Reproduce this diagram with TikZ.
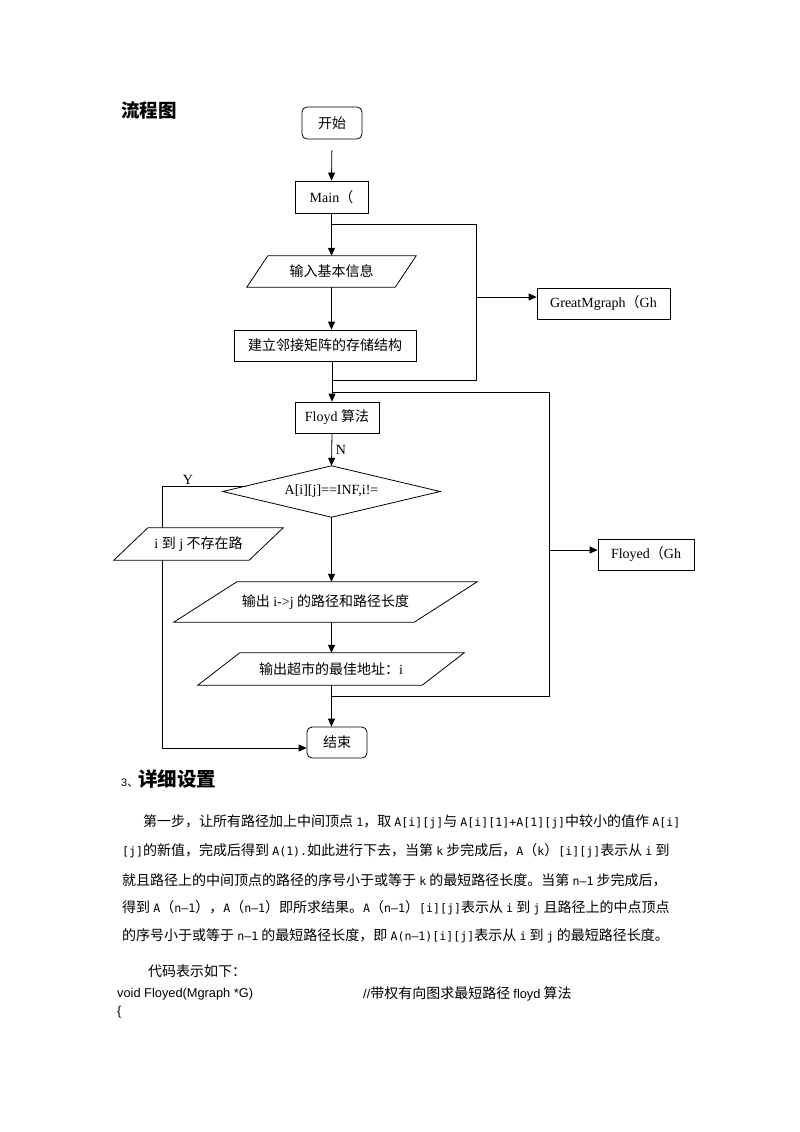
\documentclass[tikz,border=0pt]{standalone}
\usepackage{fontspec}
\setmainfont{Liberation Serif}
\newfontfamily\zh{Noto Sans CJK SC}
\newfontfamily\ar{Liberation Sans}
\newfontfamily\hwfont{DejaVu Sans Mono}
\newcommand\hwt[1]{{\hwfont\fontsize{11.6}{16}\selectfont #1}}
\usetikzlibrary{arrows.meta,calc}
\newcommand\paral[2]{\draw[ln] ($(#1.north west)+(#2,0)$) -- (#1.north east) -- ($(#1.south east)-(#2,0)$) -- (#1.south west) -- cycle;}
\tikzset{
  ln/.style={line width=0.8pt},
  arr/.style={ln, -{Triangle[length=8pt,width=7pt]}},
  box/.style={draw, line width=0.8pt, minimum height=31pt, inner sep=0pt, font=\fontsize{14}{16}\selectfont},
  rbox/.style={box, rounded corners=5pt},
  io/.style={inner sep=0pt, font=\fontsize{14}{16}\selectfont},
  lbl/.style={inner sep=0pt, font=\fontsize{14}{16}\selectfont},
  para/.style={anchor=west, inner sep=0pt, font=\zh\fontsize{14}{16}\selectfont},
}
\begin{document}
\begin{tikzpicture}[x=1pt,y=-1pt]
\fill[white] (0,0) rectangle (800,1132);
\useasboundingbox (0,0) rectangle (800,1132);

% headings
\node[anchor=west, inner sep=0pt, font=\zh\bfseries\fontsize{18.5}{20}\selectfont] (h1) at (121,110) {流程图};

% flowchart nodes
\node[rbox, minimum width=60pt, minimum height=32pt] (start) at (332,123) {\zh 开始};
\node[box, minimum width=73pt, minimum height=32pt] (main) at (331.5,197) {Main{\zh （}};
\node[io, minimum width=169pt, minimum height=31pt] (in) at (331.5,271.5) {\zh 输入基本信息};
\paral{in}{21}
\node[box, minimum width=182pt] (build) at (325,345.5) {\zh 建立邻接矩阵的存储结构};
\node[box, minimum width=133pt] (gm) at (603.5,303.5) {GreatMgraph{\zh （}Gh};
\node[box, minimum width=84pt] (floyd) at (337,417.5) {Floyd {\zh 算法}};
\node[io, minimum width=217pt, minimum height=51pt] (dia) at (331.5,491.5) {A[i][j]==INF,i!=};
\draw[ln] (dia.north) -- (dia.east) -- (dia.south) -- (dia.west) -- cycle;
\node[io, minimum width=169pt, minimum height=32pt] (pnot) at (198.5,544) {i {\zh 到} j {\zh 不存在路}};
\paral{pnot}{34}
\node[box, minimum width=96pt] (fl) at (646,554.5) {Floyed{\zh （}Gh};
\node[io, minimum width=303pt, minimum height=40pt] (out1) at (325.5,602) {{\zh 输出} i->j {\zh 的路径和路径长度}};
\paral{out1}{63}
\node[io, minimum width=266pt, minimum height=32pt] (out2) at (331,669) {{\zh 输出超市的最佳地址：}i};
\paral{out2}{42}
\node[rbox, minimum width=60pt, minimum height=31pt] (end) at (337,742.5) {\zh 结束};

% labels
\node[lbl] (nl) at (341,450) {N};
\node[lbl] (yl) at (188,480) {Y};

% bus coordinates
\coordinate (b1a) at (332,224);
\coordinate (b1r) at (476,224);
\coordinate (b1m) at (476,297);
\coordinate (b1b) at (476,380);
\coordinate (b1l) at (332,380);
\coordinate (b2a) at (332,392);
\coordinate (b2r) at (549,392);
\coordinate (b2m) at (549,550);
\coordinate (b2b) at (549,696);
\coordinate (b2l) at (332,696);
\coordinate (yp) at ($(dia.west)!0.216!(dia.north)$);
\coordinate (yx) at (162,748);

% connectors
\draw[arr, shorten <=11pt] (start.south) -- (main.north);
\draw[arr] (main.south) -- (in.north);
\draw[ln] (b1a) -- (b1r) -- (b1b) -- (b1l);
\draw[arr] (b1m) -- (b1m -| gm.west);
\draw[arr] (in.south) -- (in.south |- build.north);
\draw[arr] (b1l |- build.south) -- (b1l |- floyd.north);
\draw[ln] (b2a) -- (b2r) -- (b2b) -- (b2l);
\draw[arr] (b2m) -- (b2m -| fl.west);
\draw[arr] (b1l |- floyd.south) -- (dia.north);
\draw[arr] (dia.south) -- (dia.south |- out1.north);
\draw[arr] (dia.south |- out1.south) -- (dia.south |- out2.north);
\draw[arr] (dia.south |- out2.south) -- (dia.south |- end.north);
\draw[ln] (yp) -- (yp -| yx) -- (yx |- pnot.north);
\draw[arr] (yx |- pnot.south) -- (yx) -- (end.west |- yx);

% section 3
\node[anchor=west, inner sep=0pt, font=\zh] (h2) at (121,779) {{\ar\fontsize{11}{12}\selectfont 3}{\fontsize{11}{12}\selectfont 、}{\bfseries\fontsize{19.5}{21}\selectfont 详细设置}};

\node[para] (p1) at (143,822) {第一步，让所有路径加上中间顶点 \hwt{1}，取 \hwt{A[i][j]}与 \hwt{A[i][1]+A[1][j]}中较小的值作 \hwt{A[i]}};
\node[para] (p2) at (122,851) {\hwt{[j]}的新值，完成后得到 \hwt{A(1).}如此进行下去，当第 \hwt{k} 步完成后，\hwt{A}（\hwt{k}）\hwt{[i][j]}表示从 \hwt{i} 到};
\node[para] (p3) at (122,880) {就且路径上的中间顶点的路径的序号小于或等于 \hwt{k} 的最短路径长度。当第 \hwt{n–1} 步完成后，};
\node[para] (p4) at (122,908) {得到 \hwt{A}（\hwt{n–1}），\hwt{A}（\hwt{n–1}）即所求结果。\hwt{A}（\hwt{n–1}）\hwt{[i][j]}表示从 \hwt{i} 到 \hwt{j} 且路径上的中点顶点};
\node[para] (p5) at (122,936) {的序号小于或等于 \hwt{n–1} 的最短路径长度，即 \hwt{A(n–1)[i][j]}表示从 \hwt{i} 到 \hwt{j} 的最短路径长度。};

\node[para] (c0) at (148,971) {代码表示如下：};
\node[para] (c1) at (117,994) {{\ar\fontsize{12.8}{16}\selectfont void Floyed(Mgraph *G)}};
\node[para] (c2) at (363,994) {{\ar\fontsize{12.8}{16}\selectfont //}带权有向图求最短路径 {\ar\fontsize{12.8}{16}\selectfont floyd} 算法};
\node[para] (c3) at (117,1012) {{\ar\fontsize{12.8}{16}\selectfont \{}};
\end{tikzpicture}
\end{document}
